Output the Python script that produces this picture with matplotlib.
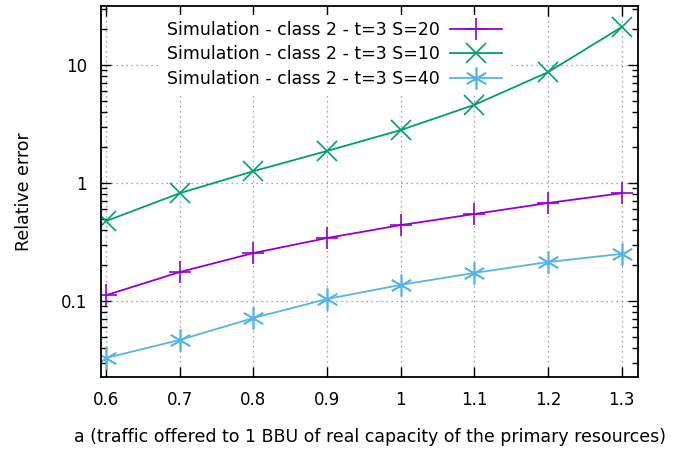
import numpy as np
import matplotlib.pyplot as plt
from matplotlib.ticker import LogLocator, NullFormatter, FixedLocator, FixedFormatter

plt.rcParams['font.family'] = ['DejaVu Sans']

a = [0.6, 0.7, 0.8, 0.9, 1.0, 1.1, 1.2, 1.3]
err_s20 = [0.112, 0.176, 0.255, 0.342, 0.44, 0.546, 0.677, 0.82]
err_s10 = [0.476, 0.82, 1.26, 1.87, 2.81, 4.6, 8.7, 21.0]
err_s40 = [0.0329, 0.0468, 0.0718, 0.104, 0.137, 0.173, 0.214, 0.251]

xticks = [0.6, 0.7, 0.8, 0.9, 1.0, 1.1, 1.2, 1.3]
xlabels = ["0.6", "0.7", "0.8", "0.9", "1", "1.1", "1.2", "1.3"]

fig = plt.figure(figsize=(6.86, 4.54), dpi=100)
ax = fig.add_axes([101/686, 1-377/454, (638-101)/686, (377-6)/454])

ax.plot(a, err_s20, color='#9400d3', marker='+', ms=16, mew=1.2, lw=1.3,
        label='Simulation - class 2 - t=3 S=20')
ax.plot(a, err_s10, color='#009e73', marker='x', ms=14, mew=1.2, lw=1.3,
        label='Simulation - class 2 - t=3 S=10')
ax.plot(a, err_s40, color='#56b4e9', marker=(6, 2, 0), ms=16, mew=1.2, lw=1.3,
        label='Simulation - class 2 - t=3 S=40')

ax.set_yscale('log')
ax.set_xlim(0.593, 1.322)
ax.set_ylim(10**-1.644, 10**1.5)
ax.xaxis.set_major_locator(FixedLocator(xticks))
ax.xaxis.set_major_formatter(FixedFormatter(xlabels))
ax.yaxis.set_major_locator(FixedLocator([0.1, 1, 10]))
ax.yaxis.set_major_formatter(FixedFormatter(["0.1", "1", "10"]))
ax.yaxis.set_minor_locator(LogLocator(base=10, subs=np.arange(2, 10)))
ax.yaxis.set_minor_formatter(NullFormatter())

ax.tick_params(which='both', direction='in', top=True, right=True, labelsize=12, pad=10)
ax.tick_params(which='major', length=7, width=1)
ax.tick_params(which='minor', length=4, width=1)
ax.grid(True, which='major', color='#888888', linestyle=(0, (1, 3)), lw=0.9)
for s in ax.spines.values():
    s.set_linewidth(1.3)

ax.set_ylabel('Relative error', fontsize=12.5, labelpad=20)
ax.set_xlabel('a (traffic offered to 1 BBU of real capacity of the primary resources)', fontsize=12.5, labelpad=14)

leg = ax.legend(loc='upper right', bbox_to_anchor=(0.775, 1.0), markerfirst=False, frameon=True,
                fontsize=12.5, handlelength=3.0, handletextpad=0.6, borderpad=0.35, labelspacing=0.38)
leg.get_frame().set_edgecolor('none')
leg.get_frame().set_facecolor('white')
leg.get_frame().set_alpha(1)
leg.set_zorder(1.8)  # above the grid, below the curves

plt.savefig('out.png', dpi=100)
